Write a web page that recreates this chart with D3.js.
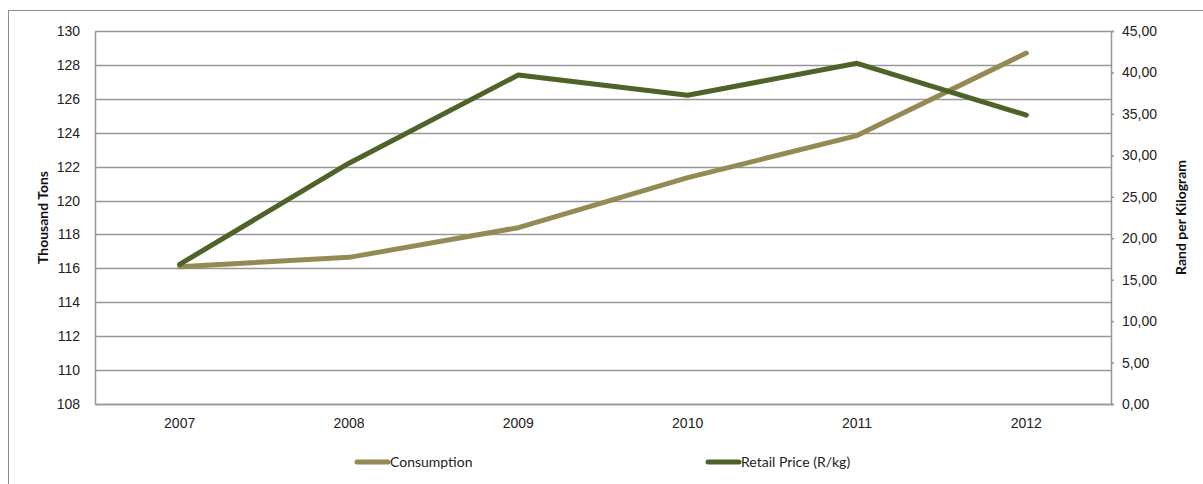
<!DOCTYPE html>
<html>
<head>
<meta charset="utf-8">
<script src="https://cdn.jsdelivr.net/npm/d3@7"></script>
<style>
  html, body { margin: 0; padding: 0; background: #fff; }
  svg { display: block; font-family: Lato, "Open Sans", sans-serif; }
</style>
</head>
<body>
<svg id="chart" width="1203" height="484"></svg>
<script>
// Chart data
const years = ["2007", "2008", "2009", "2010", "2011", "2012"];
const consumption = [116.1, 116.65, 118.4, 121.35, 123.83, 128.7];   // thousand tons
const retailPrice = [16.85, 29.05, 39.7, 37.25, 41.1, 34.85];       // rand per kg
const leftTicks = [108, 110, 112, 114, 116, 118, 120, 122, 124, 126, 128, 130];
const rightTicks = [0, 5, 10, 15, 20, 25, 30, 35, 40, 45];
const seriesNames = ["Consumption", "Retail Price (R/kg)"];
const seriesColors = ["#948A54", "#4F6228"];

const svg = d3.select("#chart");
const plot = { left: 95, right: 1111, top: 31, bottom: 404 };

// Outer frame
svg.append("rect")
  .attr("x", 8.5).attr("y", 10.5)
  .attr("width", 1203).attr("height", 484)
  .attr("fill", "none").attr("stroke", "#8c8c8c").attr("stroke-width", 1);

const x = d3.scaleBand().domain(years).range([plot.left, plot.right]);
const yL = d3.scaleLinear().domain([108, 130]).range([plot.bottom, plot.top]);
const yR = d3.scaleLinear().domain([0, 45]).range([plot.bottom, plot.top]);

// Horizontal gridlines
svg.append("g")
  .selectAll("line")
  .data(leftTicks)
  .join("line")
  .attr("x1", plot.left).attr("x2", plot.right)
  .attr("y1", d => Math.round(yL(d)) + 0.5).attr("y2", d => Math.round(yL(d)) + 0.5)
  .attr("stroke", "#979797").attr("stroke-width", 1.5);

// Left axis
const leftAxis = svg.append("g")
  .attr("transform", `translate(${plot.left},0)`)
  .call(d3.axisLeft(yL).tickValues(leftTicks).tickSize(0).tickPadding(15));
leftAxis.select(".domain").attr("stroke", "#979797").attr("stroke-width", 1.5);
leftAxis.selectAll("text").attr("font-size", 14).attr("fill", "#222");

// Right axis
const rightAxis = svg.append("g")
  .attr("transform", `translate(${plot.right},0)`)
  .call(d3.axisRight(yR).tickValues(rightTicks).tickSize(3).tickPadding(8)
    .tickFormat(d => d3.format(".2f")(d).replace(".", ",")));
rightAxis.select(".domain").attr("stroke", "#979797").attr("stroke-width", 1.5);
rightAxis.selectAll(".tick line").attr("stroke", "#979797").attr("stroke-width", 1.5);
rightAxis.selectAll("text").attr("font-size", 14).attr("fill", "#222");

// Bottom axis
const bottomAxis = svg.append("g")
  .attr("transform", `translate(0,${plot.bottom})`)
  .call(d3.axisBottom(x).tickSize(0).tickPadding(14));
bottomAxis.select(".domain").attr("stroke", "#979797").attr("stroke-width", 1.5);
bottomAxis.selectAll("text").attr("font-size", 14).attr("fill", "#222");

// Axis titles
svg.append("text")
  .attr("transform", `translate(48,${(plot.top + plot.bottom) / 2}) rotate(-90)`)
  .attr("text-anchor", "middle")
  .attr("font-size", 14).attr("font-weight", "bold").attr("fill", "#111")
  .text("Thousand Tons");
svg.append("text")
  .attr("transform", `translate(1186,${(plot.top + plot.bottom) / 2}) rotate(-90)`)
  .attr("text-anchor", "middle")
  .attr("font-size", 14).attr("font-weight", "bold").attr("fill", "#111")
  .text("Rand per Kilogram");

// Series lines
const cx = d => x(d) + x.bandwidth() / 2;
const lineL = d3.line().x((d, i) => cx(years[i])).y(d => yL(d));
const lineR = d3.line().x((d, i) => cx(years[i])).y(d => yR(d));

svg.append("path")
  .datum(consumption)
  .attr("d", lineL)
  .attr("fill", "none").attr("stroke", seriesColors[0])
  .attr("stroke-width", 5).attr("stroke-linecap", "round").attr("stroke-linejoin", "round");

svg.append("path")
  .datum(retailPrice)
  .attr("d", lineR)
  .attr("fill", "none").attr("stroke", seriesColors[1])
  .attr("stroke-width", 5).attr("stroke-linecap", "round").attr("stroke-linejoin", "round");

// Legend
const legendX = [357, 708];
const legend = svg.append("g");
seriesNames.forEach((name, i) => {
  legend.append("line")
    .attr("x1", legendX[i]).attr("x2", legendX[i] + 31)
    .attr("y1", 462).attr("y2", 462)
    .attr("stroke", seriesColors[i]).attr("stroke-width", 5).attr("stroke-linecap", "round");
  legend.append("text")
    .attr("x", legendX[i] + 33).attr("y", 467)
    .attr("font-size", 14).attr("fill", "#222")
    .text(name);
});
</script>
</body>
</html>
